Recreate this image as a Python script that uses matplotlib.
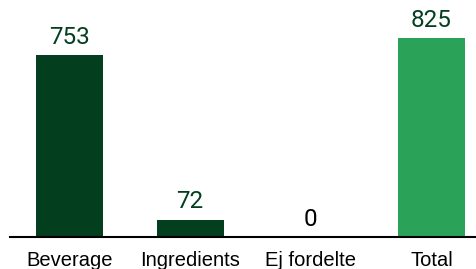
import matplotlib
matplotlib.use("Agg")
import matplotlib.pyplot as plt

categories = ["Beverage", "Ingredients", "Ej fordelte", "Total"]
values = [753, 72, 0, 825]
bar_colors = ["#033f1e", "#033f1e", "#033f1e", "#2aa358"]
label_colors = ["#033f1e", "#033f1e", "#000000", "#033f1e"]

fig = plt.figure(figsize=(4.77, 2.69), dpi=100)
ax = fig.add_axes([10 / 477, 32 / 269, 465 / 477, 237 / 269])

x = range(len(categories))
ax.bar(x, values, width=0.555, color=bar_colors)

for i, v in enumerate(values):
    ax.annotate(str(v), (i, v), xytext=(0, 8), textcoords="offset points",
                ha="center", va="baseline", fontsize=17.5, family="Roboto",
                color=label_colors[i])

ax.set_xlim(-0.493, 3.36)
ax.set_ylim(0, 981)
ax.set_xticks(list(x))
ax.set_xticklabels(categories, fontsize=14.5, family="Liberation Sans")
ax.tick_params(axis="x", length=0, pad=10)
ax.set_yticks([])
for s in ["top", "right", "left"]:
    ax.spines[s].set_visible(False)
ax.spines["bottom"].set_linewidth(1.5)

fig.savefig("out.png", dpi=100)
